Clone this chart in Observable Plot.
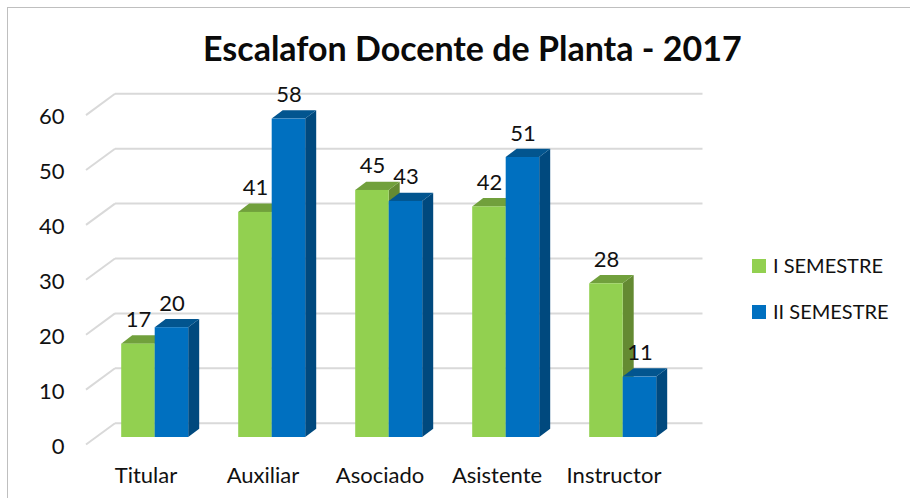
<!DOCTYPE html>
<html>
<head>
<meta charset="utf-8">
<script src="https://cdn.jsdelivr.net/npm/d3@7"></script>
<script src="https://cdn.jsdelivr.net/npm/@observablehq/plot@0.6"></script>
<style>
html,body{margin:0;padding:0;background:#fff;overflow:hidden;width:910px;height:498px}
#wrap{position:relative;width:910px;height:498px;overflow:hidden;font-family:Lato,sans-serif;color:#111}
#wrap svg{display:block;position:absolute;left:0;top:0;background:none;font-family:Lato,sans-serif}
#border{position:absolute;left:7px;top:7px;width:1000px;height:600px;border-top:1.5px solid #bfbfbf;border-left:1.5px solid #bfbfbf}
#title{position:absolute;left:203px;top:26px;font-size:34px;font-weight:700;color:#0a0a0a;white-space:nowrap;line-height:44px}
.lg{position:absolute;left:752px;display:flex;align-items:center;font-size:20px;white-space:nowrap;line-height:22px}
.lg i{display:inline-block;width:14px;height:14px;margin-right:7px}
.lg span{position:relative;top:-1.5px}
</style>
</head>
<body>
<div id="wrap">
  <div id="border"></div>
  <div id="title"></div>
</div>
<script>
const chartTitle = "Escalafon Docente de Planta - 2017";
const categories = ["Titular", "Auxiliar", "Asociado", "Asistente", "Instructor"];
const semesterOne = [17, 41, 45, 42, 28];
const semesterTwo = [20, 58, 43, 51, 11];
const seriesNames = ["I SEMESTRE", "II SEMESTRE"];
const yTicks = [0, 10, 20, 30, 40, 50, 60];
const frontColors = ["#92D050", "#0070C0"];
const topColors = ["#71A03C", "#02558F"];
const sideColors = ["#648A32", "#00497E"];

const wrap = document.getElementById("wrap");
document.getElementById("title").textContent = chartTitle;

const rowsOne = categories.map((c, i) => ({category: c, value: semesterOne[i]}));
const rowsTwo = categories.map((c, i) => ({category: c, value: semesterTwo[i]}));

// 3D extrusion of a bar: side and top faces behind each front rectangle
const depthX = 11, depthY = 8.3;
function extrude(k) {
  return (index, scales, values, dims, ctx, next) => {
    const g = next(index, scales, values, dims, ctx);
    d3.select(g).selectAll("rect").each(function () {
      const x = +this.getAttribute("x"), y = +this.getAttribute("y");
      const w = +this.getAttribute("width"), h = +this.getAttribute("height");
      const add = (pts, fill) => {
        const p = document.createElementNS("http://www.w3.org/2000/svg", "polygon");
        p.setAttribute("points", pts.map(q => q.join(",")).join(" "));
        p.setAttribute("fill", fill);
        this.parentNode.insertBefore(p, this);
      };
      add([[x + w, y], [x + w + depthX, y - depthY], [x + w + depthX, y + h - depthY], [x + w, y + h]], sideColors[k]);
      add([[x, y], [x + depthX, y - depthY], [x + w + depthX, y - depthY], [x + w, y]], topColors[k]);
    });
    return g;
  };
}

// floor-to-wall diagonals of the grid
function diagonals(index, scales, values, dims, ctx, next) {
  const g = next(index, scales, values, dims, ctx);
  d3.select(g).selectAll("line").each(function () {
    const x = +this.getAttribute("x1"), y = +this.getAttribute("y1");
    const l = document.createElementNS("http://www.w3.org/2000/svg", "line");
    l.setAttribute("x1", x - 29); l.setAttribute("y1", y + 21.3);
    l.setAttribute("x2", x); l.setAttribute("y2", y);
    this.parentNode.insertBefore(l, this);
  });
  return g;
}

const half = 33.5, shiftX = 9.2, shiftY = -7;
const chart = Plot.plot({
  width: 910,
  height: 498,
  marginLeft: 86,
  marginRight: 236.5,
  marginTop: 114.6,
  marginBottom: 54,
  style: {fontFamily: "Lato, sans-serif", fontSize: "22px", color: "#111", background: "none", overflow: "visible"},
  x: {domain: categories, paddingInner: 0.43, paddingOuter: 0.215, label: null},
  y: {domain: [0, 60], label: null},
  marks: [
    Plot.ruleY(yTicks, {stroke: "#d9d9d9", strokeWidth: 2, dx: 29, dy: -21.3, render: diagonals}),
    Plot.axisY({ticks: yTicks, tickSize: 0, tickPadding: 22, label: null, fontSize: 22, dy: 2}),
    Plot.axisX({tickSize: 0, tickPadding: 23, label: null, fontSize: 22}),
    Plot.barY(rowsOne, {x: "category", y: "value", fill: frontColors[0], insetRight: half, dx: shiftX, dy: shiftY, render: extrude(0)}),
    Plot.barY(rowsTwo, {x: "category", y: "value", fill: frontColors[1], insetLeft: half, dx: shiftX, dy: shiftY, render: extrude(1)}),
    Plot.text(rowsOne, {x: "category", y: "value", text: d => String(d.value), fontSize: 22, fill: "#111", dx: shiftX - half / 2, dy: shiftY - 24}),
    Plot.text(rowsTwo, {x: "category", y: "value", text: d => String(d.value), fontSize: 22, fill: "#111", dx: shiftX + half / 2, dy: shiftY - 24})
  ]
});
wrap.appendChild(chart);

seriesNames.forEach((name, i) => {
  const d = document.createElement("div");
  d.className = "lg";
  d.style.top = [255, 301][i] + "px";
  const sw = document.createElement("i");
  sw.style.background = frontColors[i];
  d.appendChild(sw);
  const label = document.createElement("span");
  label.textContent = name;
  d.appendChild(label);
  wrap.appendChild(d);
});
</script>
</body>
</html>
